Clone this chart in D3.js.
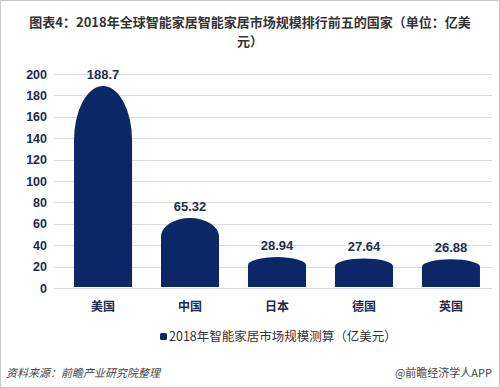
<!DOCTYPE html>
<html>
<head>
<meta charset="utf-8">
<script src="https://cdn.jsdelivr.net/npm/d3@7"></script>
<style>
  body { margin: 0; background: #fff; }
  text { font-family: "Noto Sans CJK SC", "Liberation Sans", Arial, sans-serif; }
</style>
</head>
<body>
<script>
// data
var countries = ["美国", "中国", "日本", "德国", "英国"];
var values = [188.7, 65.32, 28.94, 27.64, 26.88];
var valueLabels = ["188.7", "65.32", "28.94", "27.64", "26.88"];
var yTicks = [0, 20, 40, 60, 80, 100, 120, 140, 160, 180, 200];

var width = 500, height = 388;

var svg = d3.select("body").append("svg")
    .attr("width", width)
    .attr("height", height);

// outer frame
svg.append("rect")
    .attr("x", 0.5).attr("y", 0.5)
    .attr("width", width - 1).attr("height", height - 1)
    .attr("fill", "#fff")
    .attr("stroke", "#c8c8c8");

// title, two lines (wrapped like the original)
var titleLines = ["图表4：2018年全球智能家居智能家居市场规模排行前五的国家（单位：亿美", "元）"];
svg.append("g").selectAll("text").data(titleLines).enter()
    .append("text")
    .attr("x", 250)
    .attr("y", function(d, i) { return 27 + i * 19; })
    .attr("text-anchor", "middle")
    .style("font-size", "13px")
    .style("font-weight", "bold")
    .style("fill", "#333")
    .text(function(d) { return d; });

var y = d3.scaleLinear().domain([0, 200]).range([288, 74]);
var x = d3.scaleBand().domain(countries).range([59.5, 494.5]).paddingInner(0.333).paddingOuter(0.167);

// gridlines
svg.append("g").selectAll("line").data(yTicks).enter()
    .append("line")
    .attr("x1", 54).attr("x2", 492)
    .attr("y1", function(d) { return Math.round(y(d)) + 0.5; })
    .attr("y2", function(d) { return Math.round(y(d)) + 0.5; })
    .attr("stroke", "#dcdcdc");

// y axis labels
var yAxis = svg.append("g")
    .attr("transform", "translate(52,0)")
    .call(d3.axisLeft(y).tickValues(yTicks).tickSize(0).tickPadding(5));
yAxis.select(".domain").remove();
yAxis.selectAll("text")
    .style("font-size", "12.5px")
    .style("font-weight", "bold")
    .style("fill", "#1c2b4d")
    .style("font-family", "'Liberation Sans', Arial, sans-serif");

// bars with rounded (elliptical) tops
function barPath(d, i) {
    var x0 = x(countries[i]), w = x.bandwidth();
    var top = y(d), base = y(0) - 1;
    var h = base - top;
    var ry = h * 0.27;
    var rx = w / 2;
    return "M" + x0 + "," + base +
        "L" + x0 + "," + (top + ry) +
        "A" + rx + "," + ry + " 0 0 1 " + (x0 + w) + "," + (top + ry) +
        "L" + (x0 + w) + "," + base + "Z";
}

svg.append("g").selectAll("path").data(values).enter()
    .append("path")
    .attr("d", barPath)
    .attr("fill", "#0c2767");

// value labels
svg.append("g").selectAll("text").data(values).enter()
    .append("text")
    .attr("x", function(d, i) { return x(countries[i]) + x.bandwidth() / 2; })
    .attr("y", function(d) { return y(d) - 7; })
    .attr("text-anchor", "middle")
    .style("font-family", "'Liberation Sans', Arial, sans-serif")
    .style("font-size", "13px")
    .style("font-weight", "bold")
    .style("fill", "#1c2f52")
    .text(function(d, i) { return valueLabels[i]; });

// category labels
svg.append("g").selectAll("text").data(countries).enter()
    .append("text")
    .attr("x", function(d) { return x(d) + x.bandwidth() / 2; })
    .attr("y", 311)
    .attr("text-anchor", "middle")
    .style("font-size", "12px")
    .style("font-weight", "bold")
    .style("fill", "#1c2b4d")
    .text(function(d) { return d; });

// legend
svg.append("rect")
    .attr("x", 160).attr("y", 333)
    .attr("width", 7).attr("height", 7)
    .attr("rx", 1.5)
    .attr("fill", "#0c2767");
svg.append("text")
    .attr("x", 169).attr("y", 341)
    .style("font-size", "12.5px")
    .style("fill", "#333")
    .text("2018年智能家居市场规模测算（亿美元）");

// footer
svg.append("text")
    .attr("x", 6).attr("y", 377)
    .style("font-size", "11px")
    .style("font-style", "italic")
    .style("fill", "#444")
    .text("资料来源：前瞻产业研究院整理");
svg.append("text")
    .attr("x", 492).attr("y", 377)
    .attr("text-anchor", "end")
    .style("font-size", "11px")
    .style("fill", "#444")
    .text("@前瞻经济学人APP");
</script>
</body>
</html>
